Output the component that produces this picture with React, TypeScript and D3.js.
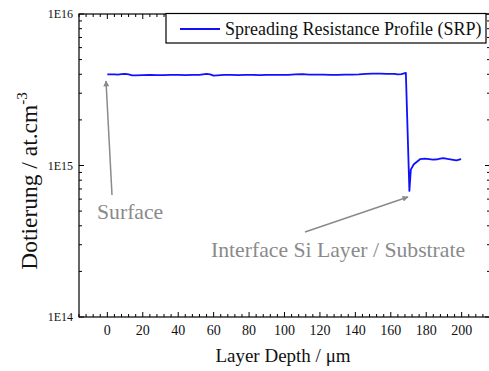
import * as d3 from "d3";

const depth = [
  0, 2, 4, 6, 8, 10, 12, 14, 16, 20, 24, 28, 32, 36, 40, 44, 48, 52, 56, 58,
  60, 62, 66, 70, 74, 78, 82, 86, 90, 94, 98, 102, 106, 110, 114, 118, 122,
  126, 130, 134, 138, 142, 146, 150, 154, 158, 162, 164, 166, 168.5, 170.5,
  171.3, 173, 176.5, 179.3, 183.8, 186.5, 189.5, 192, 194.4, 197, 199.7,
];
// doping in units of 1E15 at.cm-3
const doping = [
  3.99, 3.99, 3.99, 3.98, 4.01, 4.03, 3.99, 3.94, 3.94, 3.95, 3.96, 3.95, 3.95,
  3.96, 3.96, 3.95, 3.96, 3.97, 4.03, 4.0, 3.92, 3.94, 3.96, 3.96, 3.95, 3.96,
  3.97, 3.95, 3.96, 3.97, 3.96, 3.97, 3.99, 4.01, 3.98, 3.98, 3.98, 3.97, 3.97,
  3.98, 3.98, 3.99, 4.02, 4.04, 4.04, 4.03, 4.02, 3.99, 4.01, 4.09, 0.68, 0.94,
  1.02, 1.1, 1.11, 1.095, 1.1, 1.12, 1.105, 1.095, 1.08, 1.1,
];

const xTicks = [0, 20, 40, 60, 80, 100, 120, 140, 160, 180, 200];
const yTicks = [1e14, 1e15, 1e16];
const yTickLabels = ["1E14", "1E15", "1E16"];

const W = 489;
const H = 371;
const left = 79;
const right = 490;
const top = 14;
const bottom = 317;
const font = "Liberation Serif, DejaVu Serif, serif";
const grey = "#8a8a8a";
const blue = "#1010ff";

const App = () => {
  const x = d3.scaleLinear().domain([-16, 216]).range([left, right]);
  const y = d3.scaleLog().domain([1e14, 1e16]).range([bottom, top]);

  const minorX = d3.range(-16, 217, 4).filter((v) => v % 20 !== 0);
  const minorY: number[] = [];
  [1e14, 1e15].forEach((d) => {
    for (let k = 2; k <= 9; k++) minorY.push(d * k);
  });

  const line = d3
    .line<number>()
    .x((d, i) => x(depth[i]))
    .y((d) => y(d * 1e15));

  return (
    <svg
      width={W}
      height={H}
      style={{
        position: "absolute",
        left: 0,
        top: 0,
        background: "#fff",
        fontFamily: font,
      }}
    >
      <defs>
        <marker
          id="arr"
          viewBox="0 0 10 10"
          refX="9"
          refY="5"
          markerWidth="10"
          markerHeight="6"
          markerUnits="userSpaceOnUse"
          orient="auto"
        >
          <path d="M0,0 L10,5 L0,10 z" fill={grey} />
        </marker>
      </defs>

      {/* frame */}
      <rect
        x={left}
        y={top}
        width={right - left}
        height={bottom - top}
        fill="none"
        stroke="#000"
        strokeWidth={1.2}
      />

      {/* x ticks, bottom and top, pointing inward */}
      {xTicks.map((t) => (
        <g key={"xt" + t}>
          <line x1={x(t)} x2={x(t)} y1={bottom} y2={bottom - 5} stroke="#000" />
          <line x1={x(t)} x2={x(t)} y1={top} y2={top + 5} stroke="#000" />
          <text
            x={x(t)}
            y={bottom + 18}
            textAnchor="middle"
            fontSize={14}
            fill="#111"
          >
            {t}
          </text>
        </g>
      ))}
      {minorX.map((t) => (
        <g key={"xm" + t}>
          <line x1={x(t)} x2={x(t)} y1={bottom} y2={bottom - 3} stroke="#000" />
          <line x1={x(t)} x2={x(t)} y1={top} y2={top + 3} stroke="#000" />
        </g>
      ))}

      {/* y ticks */}
      {yTicks.map((t, i) => (
        <g key={"yt" + t}>
          <line x1={left} x2={left + 5} y1={y(t)} y2={y(t)} stroke="#000" />
          <line x1={right} x2={right - 5} y1={y(t)} y2={y(t)} stroke="#000" />
          <text
            x={left - 6}
            y={y(t) + 4}
            textAnchor="end"
            fontSize={12}
            fill="#111"
          >
            {yTickLabels[i]}
          </text>
        </g>
      ))}
      {minorY.map((t) => (
        <g key={"ym" + t}>
          <line x1={left} x2={left + 3} y1={y(t)} y2={y(t)} stroke="#000" />
          <line x1={right} x2={right - 3} y1={y(t)} y2={y(t)} stroke="#000" />
        </g>
      ))}

      {/* data */}
      <path
        d={line(doping) || ""}
        fill="none"
        stroke={blue}
        strokeWidth={1.8}
        strokeLinejoin="round"
      />

      {/* annotations */}
      <line
        x1={112}
        y1={195}
        x2={106}
        y2={81}
        stroke={grey}
        strokeWidth={1.5}
        markerEnd="url(#arr)"
      />
      <text x={97} y={219} fontSize={21.7} fill={grey}>
        Surface
      </text>
      <line
        x1={305}
        y1={232}
        x2={408}
        y2={197}
        stroke={grey}
        strokeWidth={1.5}
        markerEnd="url(#arr)"
      />
      <text x={211} y={257} fontSize={21.7} fill={grey}>
        Interface Si Layer / Substrate
      </text>

      {/* legend */}
      <rect
        x={166}
        y={13.5}
        width={320}
        height={29.5}
        fill="#fff"
        stroke="#000"
        strokeWidth={1.2}
      />
      <line x1={180} x2={220} y1={29} y2={29} stroke={blue} strokeWidth={1.8} />
      <text x={225} y={35} fontSize={18} fill="#111">
        Spreading Resistance Profile (SRP)
      </text>

      {/* axis titles */}
      <text x={283} y={362} textAnchor="middle" fontSize={19} fill="#111">
        Layer Depth / μm
      </text>
      <text
        transform="translate(37,181) rotate(-90)"
        textAnchor="middle"
        fontSize={23.5}
        fill="#111"
      >
        Dotierung / at.cm
        <tspan fontSize={15} dy={-10}>
          -3
        </tspan>
      </text>
    </svg>
  );
};

export default App;
